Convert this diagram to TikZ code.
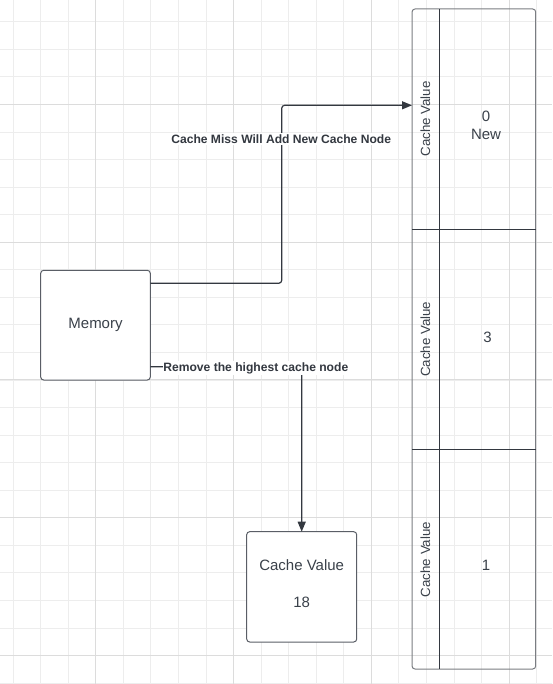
\documentclass[tikz,border=0pt]{standalone}
\usepackage{fontspec}
\setmainfont{Liberation Sans}
\usetikzlibrary{arrows.meta}
\definecolor{txtc}{HTML}{3A414A}
\definecolor{lnc}{HTML}{333840}
\definecolor{gminor}{HTML}{EDEDED}
\definecolor{gmajor}{HTML}{DCDCDC}
\definecolor{bxc}{HTML}{5A5E66}
\definecolor{tblc}{HTML}{7A7D82}
\tikzset{
  gridminor/.style={gminor, line width=1pt},
  gridmajor/.style={gmajor, line width=1pt},
  box/.style={draw=bxc, fill=white, line width=1pt, rounded corners=3pt, inner sep=0pt},
  txt/.style={text=txtc, font=\fontsize{15}{18}\selectfont, inner sep=0pt, anchor=base},
  rowlbl/.style={text=txtc, font=\fontsize{13.3}{16}\selectfont, inner sep=0pt, anchor=base, rotate=90},
  elabel/.style={text=lnc, font=\bfseries\fontsize{12.1}{14}\selectfont, fill=white, inner xsep=0.5pt, inner ysep=1.5pt, anchor=base},
  conn/.style={draw=lnc, line width=1.2pt, rounded corners=3pt, -{Triangle[length=10pt,width=8pt]}},
  divider/.style={draw=lnc, line width=1pt},
}
\begin{document}
\begin{tikzpicture}[x=1pt,y=-1pt]
\useasboundingbox (0,0) rectangle (552,684);
\fill[white] (0,0) rectangle (552,684);
% grid
\foreach \k in {0,...,19} \draw[gridminor] ({13.2+27.55*\k},0) -- ({13.2+27.55*\k},684);
\foreach \k in {0,...,24} \draw[gridminor] (0,{21.9+27.55*\k}) -- (552,{21.9+27.55*\k});
\foreach \k in {0,...,3} \draw[gridmajor] ({95.85+137.75*\k},0) -- ({95.85+137.75*\k},684);
\foreach \k in {0,...,4} \draw[gridmajor] (0,{104.3+137.75*\k}) -- (552,{104.3+137.75*\k});

% memory box
\node[box, minimum width=109.6pt, minimum height=109.7pt] (mem) at (95.5,325.15) {};
\node[txt] (memt) at (95.5,328.3) {Memory};

% removed cache box
\node[box, minimum width=110pt, minimum height=110.3pt] (c18) at (301.7,586.85) {};
\node[txt] (c18a) at (301.7,570.5) {Cache Value};
\node[txt] (c18b) at (301.7,607.3) {18};

% table
\node[draw=tblc, line width=1pt, rounded corners=3pt, minimum width=123.7pt, minimum height=660pt, inner sep=0pt] (tbl) at (473.85,339) {};
\coordinate (vtop) at (439.3,9);
\coordinate (vbot) at (439.3,669);
\draw[divider] (vtop) -- (vbot);
\coordinate (h1l) at (412,229.3);
\coordinate (h1r) at (535.7,229.3);
\coordinate (h2l) at (412,449.3);
\coordinate (h2r) at (535.7,449.3);
\draw[divider] (h1l) -- (h1r);
\draw[divider] (h2l) -- (h2r);
\node[rowlbl] (r1l) at (430,119) {Cache Value};
\node[rowlbl] (r2l) at (430,339.2) {Cache Value};
\node[rowlbl] (r3l) at (430,559.5) {Cache Value};
\node[txt] (r1a) at (486,121.7) {0};
\node[txt] (r1b) at (486,139.7) {New};
\node[txt] (r2a) at (487.5,342.7) {3};
\node[txt] (r3a) at (486,570.3) {1};

% connector 1
\coordinate (a1s) at (150.3,283.3);
\coordinate (a1b1) at (281.7,283.3);
\coordinate (a1b2) at (281.7,105.3);
\coordinate (a1e) at (412,105.3);
\draw[conn] (a1s) -- (a1b1) -- (a1b2) -- (a1e);
\node[elabel] (l1) at (281.2,143.6) {Cache Miss Will Add New Cache Node};

% connector 2
\coordinate (a2s) at (150.3,366.7);
\coordinate (a2b) at (301.7,366.7);
\coordinate (a2e) at (301.7,531.7);
\draw[conn] (a2s) -- (a2b) -- (a2e);
\node[elabel] (l2) at (255.8,371) {Remove the highest cache node};
\end{tikzpicture}
\end{document}
